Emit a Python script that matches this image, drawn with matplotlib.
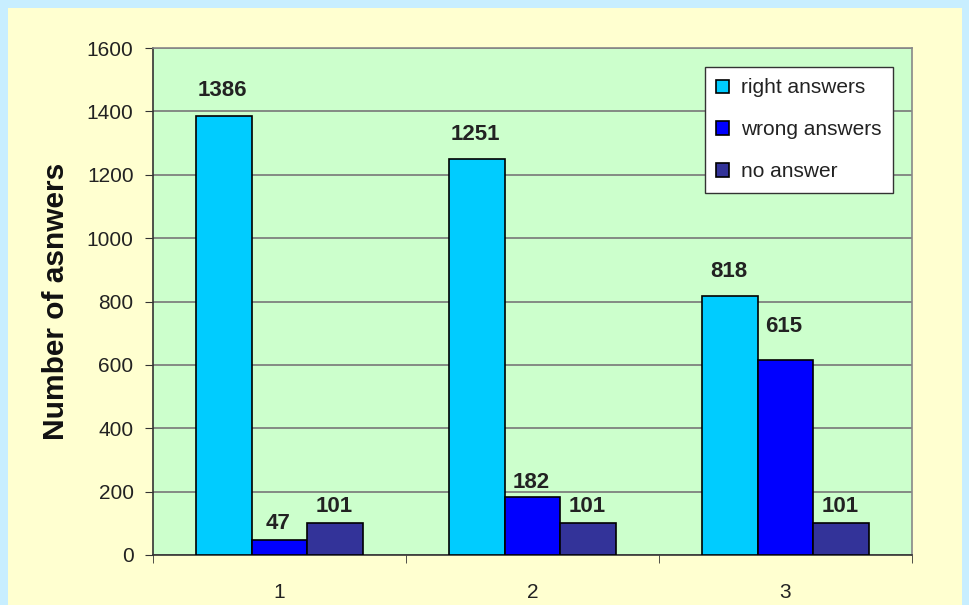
import numpy as np
import matplotlib.pyplot as plt
from matplotlib.patches import Rectangle

plt.rcParams['font.family'] = ['Liberation Sans', 'DejaVu Sans']

categories = ['1', '2', '3']
right_answers = [1386, 1251, 818]
wrong_answers = [47, 182, 615]
no_answer = [101, 101, 101]
series_names = ['right answers', 'wrong answers', 'no answer']
colors = ['#00CCFF', '#0000FF', '#333399']

# gap (px) between bar top and label baseline, as placed in the original chart
label_gaps = [[20, 19, 19], [11, 9, 28], [11, 11, 11]]

fig = plt.figure(figsize=(9.7, 6.05), dpi=100)
fig.patch.set_facecolor('#C8EEFF')
fig.patches.append(Rectangle((8 / 970, 0), 954 / 970, 1 - 8 / 605,
                             transform=fig.transFigure, facecolor='#FFFFD0',
                             edgecolor='none', zorder=-10))

ax = fig.add_axes([153 / 970, 50 / 605, 759 / 970, 507 / 605])
ax.set_facecolor('#CCFFCC')

x = np.arange(len(categories))
w = 0.22
for i, (vals, name, c) in enumerate(zip([right_answers, wrong_answers, no_answer], series_names, colors)):
    pos = x + (i - 1) * w
    ax.bar(pos, vals, width=w, color=c, edgecolor='black', linewidth=1.2,
           label=name, zorder=3)
    for p, v, g in zip(pos, vals, label_gaps[i]):
        ax.annotate(str(v), (p, v), xytext=(-1, g * 0.72), textcoords='offset points',
                    ha='center', va='baseline', fontsize=16, fontweight='bold',
                    color='#222222')

ax.set_xlim(-0.5, 2.5)
ax.set_ylim(0, 1600)
ax.set_yticks(np.arange(0, 1601, 200))
ax.set_xticks(x)
ax.set_xticklabels(categories)
ax.set_xticks([-0.5, 0.5, 1.5, 2.5], minor=True)
ax.tick_params(axis='x', which='major', length=0, pad=20, labelsize=15, labelcolor='#222222')
ax.tick_params(axis='x', which='minor', length=6, direction='out', color='#333333')
ax.tick_params(axis='y', length=6, direction='out', labelsize=15, labelcolor='#222222',
               color='#333333', pad=8)
ax.yaxis.grid(True, color='#777777', linewidth=1.2, zorder=0)
ax.set_axisbelow(True)

for s in ['top', 'right']:
    ax.spines[s].set_color('#888888')
    ax.spines[s].set_linewidth(1.2)
for s in ['left', 'bottom']:
    ax.spines[s].set_color('#333333')
    ax.spines[s].set_linewidth(1.2)

ax.set_ylabel('Number of asnwers', fontsize=21.5, fontweight='bold', color='#111111', labelpad=12)

leg = ax.legend(loc='upper right', bbox_to_anchor=(0.975, 0.9625), fontsize=15,
                frameon=True, fancybox=False, framealpha=1, edgecolor='#333333',
                handlelength=0.6, handleheight=0.6, handletextpad=0.6,
                labelspacing=1.1, borderpad=0.55, borderaxespad=0)
leg.get_frame().set_linewidth(1.0)
for t in leg.get_texts():
    t.set_color('#222222')

plt.savefig('out.png', dpi=100, facecolor=fig.get_facecolor())
